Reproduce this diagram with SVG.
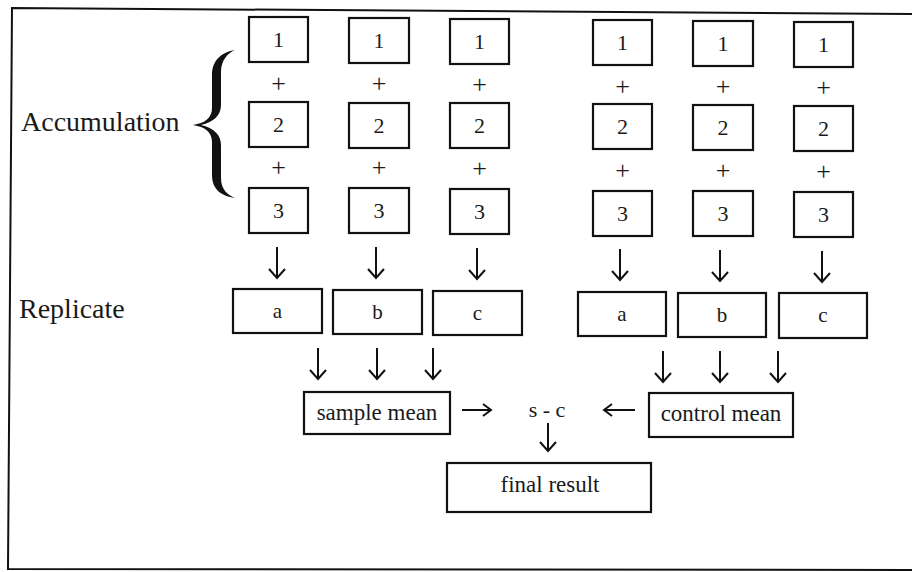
<svg xmlns="http://www.w3.org/2000/svg" width="912" height="572" viewBox="0 0 912 572">
<defs>
<style>
.bx{fill:#fff;stroke:#111;stroke-width:2.2}
.t{font-family:"Liberation Serif","Times New Roman",serif;fill:#1a1a1a;text-anchor:middle}
.d{font-size:22px}
.p{font-size:26px}
.r{font-size:21px}
.lb{font-size:28px;text-anchor:start}
.m{font-size:23px}
.cn{fill:none;stroke:#111;stroke-width:2}
</style>
<marker id="ah" viewBox="-11 -10 13 20" markerWidth="13" markerHeight="20" markerUnits="userSpaceOnUse" orient="auto" refX="0" refY="0">
<path d="M-9,-8 L0,0 L-9,8" fill="none" stroke="#111" stroke-width="2"/>
</marker>
<marker id="ah2" viewBox="-11 -8 13 16" markerWidth="13" markerHeight="16" markerUnits="userSpaceOnUse" orient="auto" refX="0" refY="0">
<path d="M-8,-6 L0,0 L-8,6" fill="none" stroke="#111" stroke-width="2"/>
</marker>
</defs>
<rect width="912" height="572" fill="#fff"/>
<path d="M912,14 L12,8 L8,569 L912,570" fill="none" stroke="#111" stroke-width="2"/>

<g id="labels">
<text class="t lb" x="21" y="131">Accumulation</text>
<text class="t lb" x="19" y="318">Replicate</text>
</g>
<g id="brace">
<path d="M235,50 C222,52 212,60 212,75 L212,108 C212,118 205,123 193,125 C205,127 212,132 212,142 L212,175 C212,190 222,196 235,198 C228,195 221,190 221,178 L221,145 C221,135 214,128 201,125 C214,122 221,115 221,105 L221,72 C221,60 228,53 235,50 Z" fill="#111"/>
</g>

<g id="sample-accumulation">
<g id="s1"><rect class="bx" x="249" y="17" width="59" height="45"/><text class="t d" x="278.5" y="47">1</text><text class="t p" x="278.5" y="92">+</text><rect class="bx" x="249" y="102" width="59" height="45"/><text class="t d" x="278.5" y="132">2</text><text class="t p" x="278.5" y="176">+</text><rect class="bx" x="249" y="188" width="59" height="45"/><text class="t d" x="278.5" y="218">3</text></g>
<g id="s2"><rect class="bx" x="349" y="18" width="60" height="45"/><text class="t d" x="379" y="48">1</text><text class="t p" x="379" y="92">+</text><rect class="bx" x="349" y="103" width="60" height="45"/><text class="t d" x="379" y="133">2</text><text class="t p" x="379" y="176">+</text><rect class="bx" x="349" y="188" width="60" height="45"/><text class="t d" x="379" y="218">3</text></g>
<g id="s3"><rect class="bx" x="450" y="19" width="59" height="45"/><text class="t d" x="479.5" y="49">1</text><text class="t p" x="479.5" y="93">+</text><rect class="bx" x="450" y="103" width="59" height="45"/><text class="t d" x="479.5" y="133">2</text><text class="t p" x="479.5" y="177">+</text><rect class="bx" x="450" y="189" width="59" height="45"/><text class="t d" x="479.5" y="219">3</text></g>
</g>

<g id="control-accumulation">
<g id="c1"><rect class="bx" x="593" y="20" width="59" height="45"/><text class="t d" x="622.5" y="50">1</text><text class="t p" x="622.5" y="95">+</text><rect class="bx" x="593" y="104" width="59" height="45"/><text class="t d" x="622.5" y="134">2</text><text class="t p" x="622.5" y="179">+</text><rect class="bx" x="593" y="191" width="59" height="45"/><text class="t d" x="622.5" y="221">3</text></g>
<g id="c2"><rect class="bx" x="693" y="21" width="60" height="45"/><text class="t d" x="723" y="51">1</text><text class="t p" x="723" y="95">+</text><rect class="bx" x="693" y="105" width="60" height="45"/><text class="t d" x="723" y="135">2</text><text class="t p" x="723" y="179">+</text><rect class="bx" x="693" y="191" width="60" height="45"/><text class="t d" x="723" y="221">3</text></g>
<g id="c3"><rect class="bx" x="794" y="22" width="59" height="45"/><text class="t d" x="823.5" y="52">1</text><text class="t p" x="823.5" y="96">+</text><rect class="bx" x="794" y="106" width="59" height="45"/><text class="t d" x="823.5" y="136">2</text><text class="t p" x="823.5" y="180">+</text><rect class="bx" x="794" y="192" width="59" height="45"/><text class="t d" x="823.5" y="222">3</text></g>
</g>

<g id="replicates">
<g id="sa"><rect class="bx" x="233" y="289" width="89" height="44"/><text class="t r" x="277.5" y="318">a</text></g>
<g id="sb"><rect class="bx" x="333" y="290" width="89" height="44"/><text class="t r" x="377.5" y="319">b</text></g>
<g id="sc"><rect class="bx" x="433" y="291" width="89" height="44"/><text class="t r" x="477.5" y="320">c</text></g>
<g id="ca"><rect class="bx" x="578" y="292" width="88" height="44"/><text class="t r" x="622" y="321">a</text></g>
<g id="cb"><rect class="bx" x="678" y="293" width="88" height="44"/><text class="t r" x="722" y="322">b</text></g>
<g id="cc"><rect class="bx" x="779" y="293" width="88" height="45"/><text class="t r" x="823" y="322">c</text></g>
</g>

<g id="sample-mean"><rect class="bx" x="304" y="392" width="146" height="42"/><text class="t m" x="377" y="420">sample mean</text></g>
<g id="control-mean"><rect class="bx" x="649" y="393" width="144" height="44"/><text class="t m" x="721" y="421">control mean</text></g>
<g id="diff"><text class="t" style="font-size:22px" x="547" y="417" xml:space="preserve">s - c</text></g>
<g id="final-result"><rect class="bx" x="447" y="463" width="204" height="49"/><text class="t m" x="550" y="492">final result</text></g>

<g id="connectors">
<path class="cn" marker-end="url(#ah)" d="M277,247 V278"/>
<path class="cn" marker-end="url(#ah)" d="M376,247 V278"/>
<path class="cn" marker-end="url(#ah)" d="M477,248 V279"/>
<path class="cn" marker-end="url(#ah)" d="M620,249 V280"/>
<path class="cn" marker-end="url(#ah)" d="M720,250 V281"/>
<path class="cn" marker-end="url(#ah)" d="M822,251 V282"/>
<path class="cn" marker-end="url(#ah)" d="M318,348 V379"/>
<path class="cn" marker-end="url(#ah)" d="M377,348 V379"/>
<path class="cn" marker-end="url(#ah)" d="M433,348 V379"/>
<path class="cn" marker-end="url(#ah)" d="M663,351 V382"/>
<path class="cn" marker-end="url(#ah)" d="M720,351 V382"/>
<path class="cn" marker-end="url(#ah)" d="M778,351 V382"/>
<path class="cn" marker-end="url(#ah2)" d="M462,410 H491"/>
<path class="cn" marker-end="url(#ah2)" d="M635,410 H604"/>
<path class="cn" marker-end="url(#ah)" d="M548,423 V451"/>
</g>
</svg>
